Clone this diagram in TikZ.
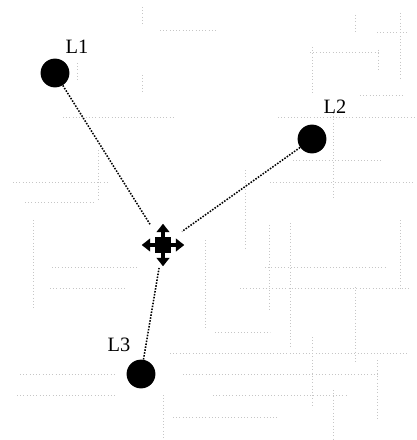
\documentclass[tikz,border=0pt]{standalone}
\usepackage{fontspec}
\setmainfont{Liberation Serif}
\usetikzlibrary{arrows.meta}

\begin{document}
\begin{tikzpicture}[x=0.025cm,y=-0.025cm,font=\fontsize{14.5}{16}\selectfont,
  site/.style={circle,fill=black,minimum size=0.72cm,inner sep=0pt},
  lab/.style={inner sep=1pt},
  grd/.style={gray!45,dotted,line width=0.3pt},
  link/.style={densely dotted,line width=1.1pt},
  mv/.style={line width=2.2pt,-{Triangle[width=9pt,length=6pt]}}]
\useasboundingbox (0,0) rectangle (416,440);
% faint street grid in the background
\foreach \x/\ya/\yb in {142/7/25,142/75/93,77/63/80,355/15/32,400/13/80,378/50/70,
  312/47/93,333/113/200,290/223/347,355/287/363,33/220/310,205/240/330,269/225/310,
  312/337/407,163/395/440,333/390/440,400/220/290,377/360/420,98/150/200,245/170/250}
  \draw[grd] (\x,\ya) -- (\x,\yb);
\foreach \y/\xa/\xb in {117/63/173,117/278/415,95/360/403,182/270/415,182/13/110,
  202/25/93,160/293/382,32/377/407,52/310/380,30/160/217,267/52/137,267/265/387,
  288/50/127,288/240/410,353/170/407,374/20/117,374/183/380,395/17/117,395/213/347,
  332/215/270,417/173/277}
  \draw[grd] (\xa,\y) -- (\xb,\y);
% sites
\node[site] (L1) at (55,73) {};
\node[site] (L2) at (312,139) {};
\node[site] (L3) at (141,374) {};
\node[lab] (t1) at (77,47) {L1};
\node[lab] (t2) at (335,107) {L2};
\node[lab] (t3) at (119,345) {L3};
% moving point
\node[circle,minimum size=1.15cm,inner sep=0pt] (mk) at (163,245) {};
\node[fill=black,minimum size=0.4cm,inner sep=0pt] (sq) at (mk) {};
\draw[mv] (sq.east) -- ++(13,0);
\draw[mv] (sq.west) -- ++(-13,0);
\draw[mv] (sq.north) -- ++(0,-13);
\draw[mv] (sq.south) -- ++(0,13);
% links
\draw[link] (L1) -- (mk);
\draw[link] (L2) -- (mk);
\draw[link] (L3) -- (mk);
\end{tikzpicture}
\end{document}
